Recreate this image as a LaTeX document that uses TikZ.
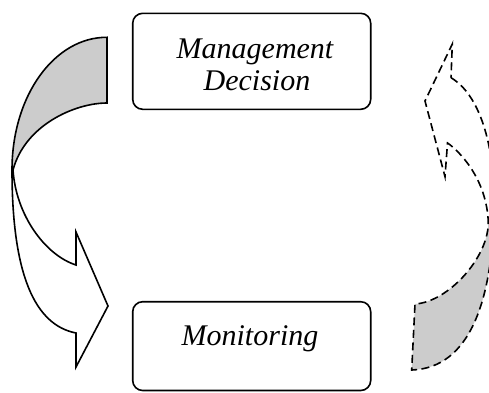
\documentclass[tikz,border=0pt]{standalone}
\usepackage{fontspec}
\setmainfont{Liberation Serif}
\begin{document}
\begin{tikzpicture}[x=1pt,y=-1pt,
  boxstyle/.style={draw, line width=1.6pt, rounded corners=10pt, minimum width=238pt, inner sep=0pt},
  lbl/.style={inner sep=0pt, font=\fontsize{30}{32}\selectfont\itshape},
  solidarrow/.style={draw, line width=1.6pt, line join=miter},
  dasharrow/.style={draw, line width=1.6pt, dash pattern=on 8pt off 4.5pt},
  backfill/.style={fill=black!20}]
\useasboundingbox (0,0) rectangle (489,392);
\clip (0,0) rectangle (489,392);
% boxes
\node[boxstyle, minimum height=96pt] (md) at (251.7,61.3) {};
\node[boxstyle, minimum height=88.8pt] (mon) at (251.7,346.1) {};
\node[lbl, anchor=base] (mdt1) at (255,58.3) {Management};
\node[lbl, anchor=base] (mdt2) at (257,90.7) {Decision};
\node[lbl, anchor=base] (mont) at (250,345) {Monitoring};
% left curved arrow (solid)
\path[backfill, solidarrow] (107,37.3) .. controls (55,37) and (12,95) .. (12,170)
  -- (13,170) .. controls (25,125) and (75,103) .. (107,103) -- cycle;
\path[fill=white, solidarrow] (12,170) .. controls (12,275) and (35,325) .. (76,333)
  -- (76,367) -- (108,306) -- (76,232) -- (76,265)
  .. controls (45,255) and (16,215) .. (13,170) -- cycle;
% right curved arrow (dashed)
\fill[black!20] (415,304) .. controls (448,302) and (488,258) .. (488.3,223)
  -- (494,200) .. controls (494,300) and (470,368) .. (411.7,370) -- cycle;
\path[dasharrow] (451,77.7) .. controls (480,95) and (494,145) .. (494,200)
  .. controls (494,300) and (470,368) .. (411.7,370)
  -- (415,304) .. controls (448,302) and (488,258) .. (488.3,223)
  .. controls (487,178) and (458,150) .. (447.5,143)
  -- (445,176.7) -- (425,101) -- (452.3,44) -- cycle;
\end{tikzpicture}
\end{document}
